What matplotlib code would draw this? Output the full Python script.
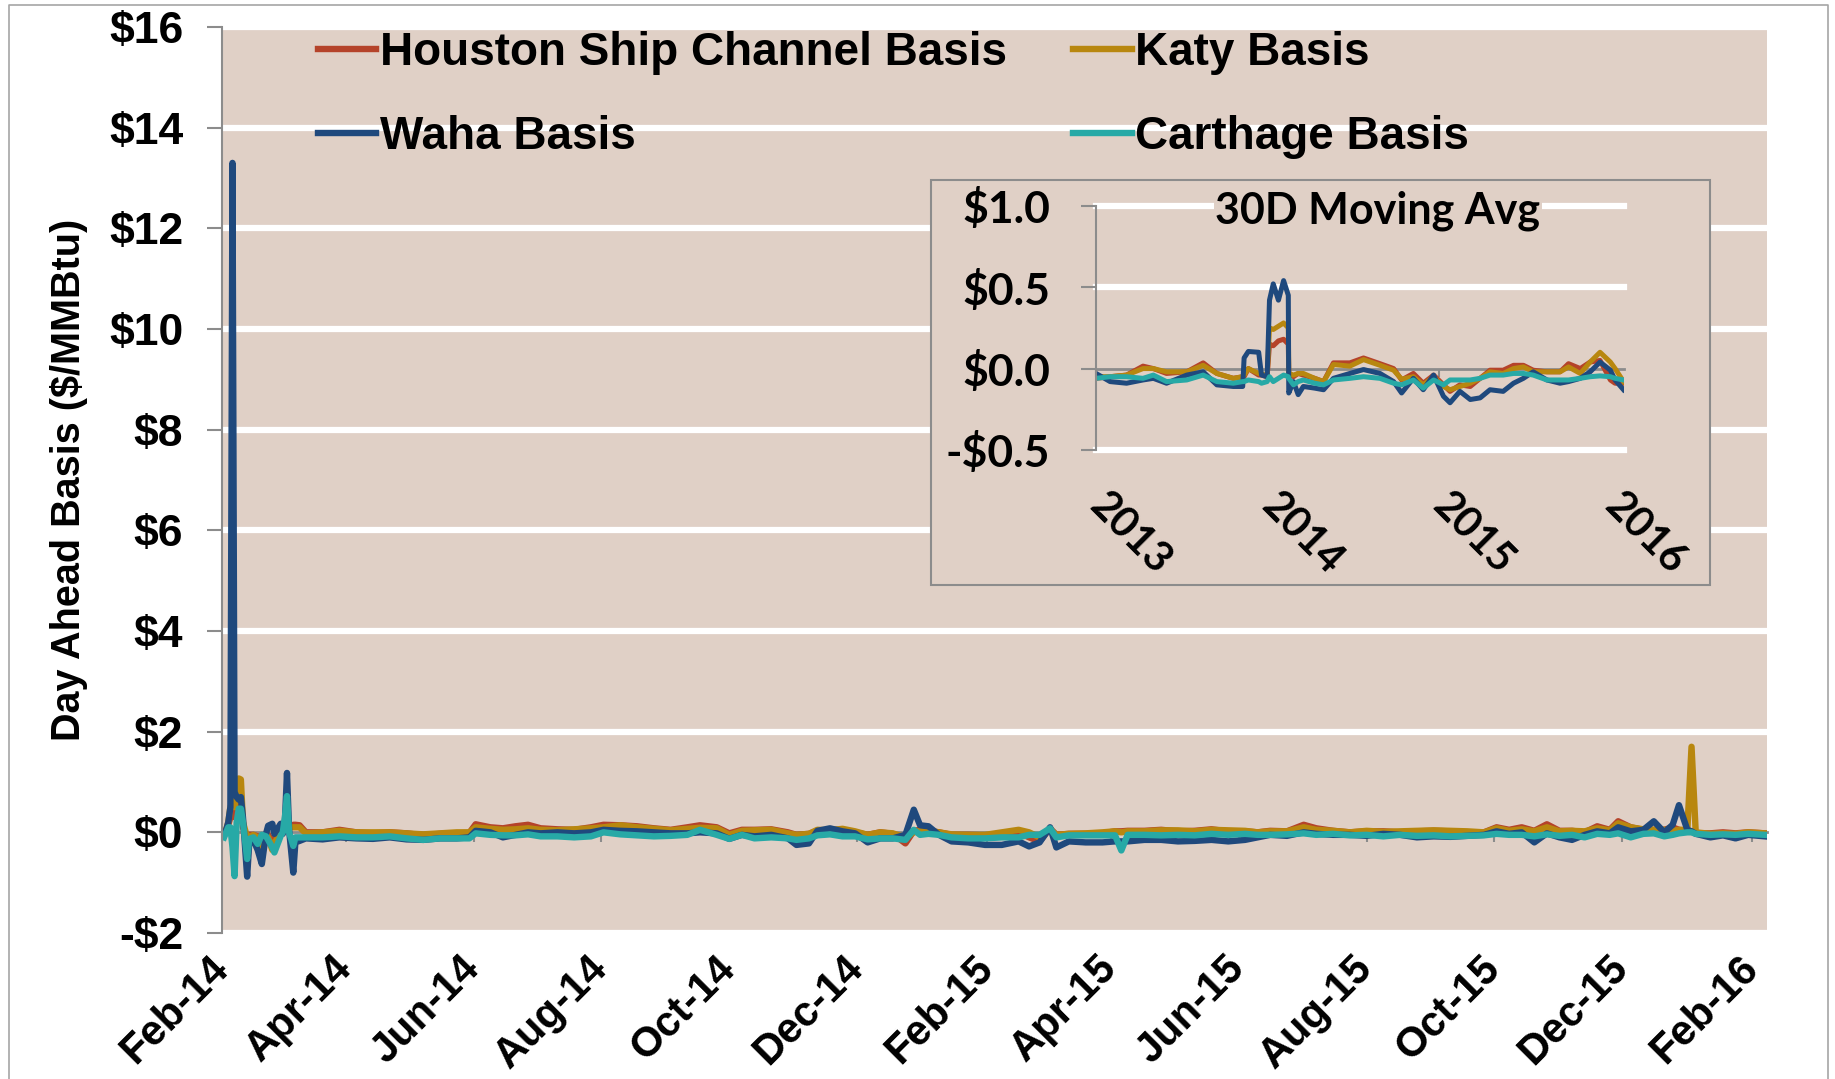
import matplotlib
matplotlib.use("Agg")
import matplotlib.pyplot as plt
import matplotlib.dates as mdates
from matplotlib.ticker import FixedLocator, NullFormatter
from matplotlib.patches import Rectangle
from matplotlib.lines import Line2D
import pandas as pd

# ---- main chart: daily day-ahead basis, days counted from 1 Feb 2014 ----
main_start = pd.Timestamp("2014-02-01")
main_end_day = 737
main_days = [1, 2, 3, 4, 5, 6, 7, 8, 9, 10, 12, 13, 15, 17, 19, 21, 22, 24, 25, 28, 29, 30, 31, 32, 34, 35, 37, 40,
             48, 56, 64, 72, 80, 88, 96, 104, 112, 118, 121, 128, 134, 140, 146, 152, 160, 168, 176, 182, 190, 198,
             206, 214, 222, 228, 236, 242, 248,
             254, 262, 270, 274, 280, 284, 290, 296, 302, 308, 314, 320, 326, 330, 333, 337, 342, 348, 356, 364,
             372, 380, 385, 390, 395, 398, 404, 412, 420, 426, 429, 432, 440, 448, 456, 464, 472, 480, 488, 494,
             500, 508, 516, 522, 530, 538, 546, 554, 562, 570, 578, 586, 594, 602, 608, 614, 620, 626, 632, 638,
             644, 650, 656, 662, 666, 672, 678, 683, 688, 692, 695, 699, 701, 703, 710, 716, 722, 728, 736]

hsc = [0.0, 0.05, 0.15, 0.3, 0.4, 0.3, 0.6, 0.7, 0.6, 0.1, -0.1, -0.05, -0.05, -0.08, -0.2, -0.05, -0.05, -0.2,
       -0.1, 0.0, 0.0, 0.15, 0.4, 0.1, 0.15, 0.15, 0.14, 0.0,
       0.0, 0.05, 0.0, -0.02, 0.0, -0.02, -0.06, -0.03, -0.02, -0.01, 0.16, 0.1, 0.08, 0.12, 0.15, 0.08, 0.06,
       0.05, 0.1, 0.15, 0.14, 0.12, 0.08, 0.05, 0.1, 0.14, 0.1, -0.02, 0.05,
       0.05, 0.06, 0.0, -0.05, -0.03, 0.03, 0.05, 0.05, 0.0, -0.05, 0.0, -0.03, -0.22, 0.03, 0.05, 0.03, 0.0,
       -0.05, -0.05, -0.06, -0.06, 0.0, -0.1, -0.18, 0.08, -0.05, -0.03, -0.03, -0.02, 0.02, 0.02, 0.03, 0.03,
       0.05, 0.02, 0.03, 0.06, 0.02, 0.02, 0.0,
       0.03, 0.02, 0.15, 0.08, 0.03, 0.0, 0.02, 0.02, 0.0, 0.02, 0.03, 0.02, 0.0, 0.0, 0.1, 0.05, 0.1, 0.03,
       0.16, 0.03, 0.03, 0.0, 0.12, 0.05, 0.22, 0.1, 0.05, 0.05, 0.05, 0.1, 0.05, 0.02, 0.02, -0.02, -0.02, 0.0,
       -0.02, 0.0, -0.02]

katy = [0.0, 0.05, 0.2, 0.5, 0.6, 0.5, 1.05, 1.07, 1.05, 0.2, -0.1, -0.1, -0.05, -0.1, -0.3, -0.05, -0.1, -0.35,
        -0.2, -0.05, 0.0, 0.2, 0.5, 0.1, 0.1, 0.1, 0.1, -0.02,
        0.0, 0.03, 0.0, 0.0, 0.0, -0.02, -0.04, -0.02, 0.0, 0.0, 0.1, 0.07, 0.05, 0.06, 0.08, 0.05, 0.04, 0.06,
        0.08, 0.1, 0.14, 0.1, 0.07, 0.04, 0.07, 0.09, 0.08, -0.05, 0.03,
        0.04, 0.05, -0.02, -0.05, -0.03, 0.05, 0.04, 0.07, 0.02, -0.05, 0.0, -0.02, -0.1, 0.0, 0.03, 0.03, 0.0,
        -0.04, -0.05, -0.05, 0.0, 0.05, 0.0, -0.1, 0.06, -0.05, -0.03, -0.02, 0.0, 0.02, 0.0, 0.02, 0.02, 0.04,
        0.04, 0.02, 0.05, 0.04, 0.03, 0.0,
        0.02, 0.02, 0.1, 0.05, 0.03, 0.0, 0.03, 0.01, 0.02, 0.03, 0.04, 0.03, 0.02, 0.0, 0.08, 0.03, 0.06, 0.02,
        0.1, 0.02, 0.03, 0.02, 0.08, 0.04, 0.18, 0.1, 0.06, 0.05, 0.05, 0.03, 0.05, 0.05, 1.7, 0.0, -0.03, -0.02,
        -0.03, 0.0, -0.02]

waha = [0.0, 0.05, 0.2, 0.5, 13.3, 0.8, 0.7, 0.65, 0.7, 0.3, -0.88, -0.2, -0.15, -0.35, -0.63, -0.03, 0.13, 0.17,
        -0.03, 0.17, -0.03, 0.2, 1.18, 0.05, -0.8, -0.2, -0.17, -0.12,
        -0.14, -0.1, -0.12, -0.13, -0.1, -0.14, -0.15, -0.12, -0.12, -0.1, 0.03, 0.0, -0.1, -0.05, 0.0, -0.02,
        0.0, -0.02, 0.0, 0.05, 0.03, 0.02, 0.0, -0.02, -0.02, 0.0, -0.02, -0.13, -0.05,
        -0.08, -0.05, -0.12, -0.25, -0.22, 0.03, 0.08, 0.02, -0.02, -0.2, -0.12, -0.12, -0.05, 0.45, 0.14, 0.12,
        -0.05, -0.18, -0.2, -0.25, -0.25, -0.18, -0.28, -0.2, 0.1, -0.3, -0.18, -0.2, -0.2, -0.18, -0.18, -0.18,
        -0.15, -0.15, -0.18, -0.17, -0.15, -0.18, -0.15, -0.1,
        -0.05, -0.07, 0.0, -0.03, -0.05, -0.05, -0.07, -0.03, -0.05, -0.1, -0.08, -0.09, -0.07, -0.05, 0.02,
        -0.03, 0.0, -0.2, -0.02, -0.1, -0.15, -0.05, 0.02, -0.02, 0.1, 0.02, 0.05, 0.22, 0.0, 0.15, 0.54, 0.05,
        0.02, -0.03, -0.1, -0.06, -0.12, -0.05, -0.08]

carthage = [-0.1, 0.0, 0.1, 0.1, -0.3, -0.87, 0.2, 0.47, 0.47, 0.2, -0.53, -0.13, -0.1, -0.23, -0.05, -0.08, -0.15,
            -0.3, -0.4, -0.07, 0.0, 0.3, 0.72, 0.0, -0.27, -0.1, -0.1, -0.1,
            -0.1, -0.08, -0.1, -0.1, -0.08, -0.12, -0.15, -0.12, -0.12, -0.12, -0.02, -0.05, -0.06, -0.06, -0.04,
            -0.08, -0.08, -0.1, -0.08, 0.0, -0.04, -0.06, -0.08, -0.07, -0.05, 0.05, -0.05, -0.13, -0.05,
            -0.12, -0.1, -0.12, -0.15, -0.12, -0.06, -0.04, -0.08, -0.08, -0.14, -0.12, -0.12, -0.15, 0.05, -0.05,
            -0.03, -0.05, -0.1, -0.12, -0.12, -0.1, -0.1, -0.05, -0.05, 0.08, -0.1, -0.06, -0.06, -0.06, -0.06,
            -0.36, -0.05, -0.05, -0.06, -0.05, -0.06, -0.03, -0.05, -0.03, -0.05,
            -0.05, -0.04, -0.02, -0.05, -0.03, -0.06, -0.05, -0.08, -0.05, -0.07, -0.06, -0.08, -0.07, -0.06,
            -0.03, -0.05, -0.05, -0.08, -0.04, -0.07, -0.05, -0.1, -0.03, -0.05, -0.02, -0.1, -0.03, -0.02, -0.08,
            -0.05, -0.02, 0.0, 0.0, -0.03, -0.05, -0.04, -0.05, -0.03, -0.05]

# ---- inset: 30 day moving average, days counted from 1 Jan 2013 ----
inset_start = pd.Timestamp("2013-01-01")
inset_end_day = 1123
inset_days = [0, 30, 65, 100, 122, 150, 193, 228, 257, 292, 312, 315, 324, 346, 352, 364, 369, 377, 388, 399,
              409, 410, 420, 430, 441, 465, 484, 505, 540, 569, 604, 633, 650, 675, 696, 718, 739, 753, 774, 796,
              817, 838, 866, 888, 909, 930, 959, 987, 1005, 1030, 1051, 1072, 1094, 1104, 1122]
hsc_ma = [-0.06, -0.05, -0.04, 0.015, 0.0, -0.03, -0.02, 0.035, -0.03, -0.06, -0.05, -0.05, 0.0, -0.04, -0.04,
          -0.05, 0.15, 0.14, 0.17, 0.18, 0.15, -0.03, -0.05, -0.03, -0.04, -0.06, -0.08, 0.035, 0.035, 0.065,
          0.03, 0.0, -0.07, -0.03, -0.09, -0.04, -0.1, -0.14, -0.1, -0.11, -0.06, -0.01, -0.01, 0.02, 0.02,
          -0.01, -0.02, -0.02, 0.03, 0.0, 0.04, 0.05, -0.07, -0.09, -0.09]
katy_ma = [-0.05, -0.05, -0.04, 0.0, 0.0, -0.02, -0.02, 0.02, -0.03, -0.06, -0.05, -0.04, 0.0, -0.03, -0.03,
           -0.05, 0.25, 0.24, 0.26, 0.28, 0.25, -0.03, -0.04, -0.03, -0.03, -0.06, -0.08, 0.025, 0.015, 0.055,
           0.02, -0.01, -0.065, -0.05, -0.1, -0.05, -0.11, -0.13, -0.11, -0.09, -0.06, -0.02, -0.03, 0.0, 0.01,
           -0.02, -0.02, -0.02, 0.01, -0.03, 0.04, 0.1, 0.04, 0.0, -0.08]
waha_ma = [-0.03, -0.08, -0.09, -0.07, -0.06, -0.09, -0.04, -0.02, -0.1, -0.11, -0.11, 0.065, 0.105, 0.1, -0.04,
           -0.05, 0.42, 0.52, 0.42, 0.54, 0.45, -0.15, -0.08, -0.16, -0.11, -0.12, -0.13, -0.06, -0.03, -0.006,
           -0.03, -0.08, -0.15, -0.06, -0.13, -0.04, -0.17, -0.21, -0.14, -0.19, -0.18, -0.13, -0.14, -0.09,
           -0.06, -0.02, -0.07, -0.09, -0.08, -0.06, -0.02, 0.04, -0.01, -0.07, -0.13]
carthage_ma = [-0.06, -0.05, -0.05, -0.06, -0.04, -0.08, -0.07, -0.04, -0.08, -0.09, -0.08, -0.08, -0.07, -0.08,
               -0.09, -0.08, -0.05, -0.08, -0.06, -0.04, -0.05, -0.06, -0.1, -0.08, -0.07, -0.09, -0.1, -0.07,
               -0.06, -0.05, -0.06, -0.09, -0.1, -0.07, -0.12, -0.07, -0.1, -0.07, -0.07, -0.07, -0.06, -0.04,
               -0.04, -0.03, -0.03, -0.04, -0.07, -0.07, -0.07, -0.06, -0.05, -0.045, -0.05, -0.06, -0.07]

series_names = ["Houston Ship Channel Basis", "Katy Basis", "Waha Basis", "Carthage Basis"]
series_colors = ["#B5432A", "#B8870F", "#1F497D", "#27A9A6"]
main_yticks = [-2, 0, 2, 4, 6, 8, 10, 12, 14, 16]
inset_yticks = [-0.5, 0.0, 0.5, 1.0]
inset_years = ["2013", "2014", "2015", "2016"]

TAN = "#E0D0C6"
GREY = "#8C8C8C"
W, H = 1835, 1079

plt.rcParams["font.family"] = ["Liberation Sans", "DejaVu Sans"]
plt.rcParams["font.weight"] = "bold"
plt.rcParams["axes.labelweight"] = "bold"


def money(v, decimals=0):
    s = f"{abs(v):.{decimals}f}"
    return f"-${s}" if v < 0 else f"${s}"


fig = plt.figure(figsize=(W / 100, H / 100), dpi=100)

# ---------------- main axes ----------------
ax = fig.add_axes([222 / W, 1 - 933 / H, (1767 - 222) / W, (933 - 27) / H])
ax.set_facecolor(TAN)

x_main = main_start + pd.to_timedelta(main_days, unit="D")
lines = []
for vals, name, col in zip([hsc, katy, waha, carthage], series_names, series_colors):
    ln, = ax.plot(x_main, vals, color=col, lw=4.6, label=name, solid_joinstyle="round", zorder=2)
    lines.append(ln)

ax.set_xlim(main_start, main_start + pd.Timedelta(days=main_end_day))
ymin, ymax = main_yticks[0], main_yticks[-1]
ax.set_ylim(ymin, ymax)

ax.set_yticks(main_yticks, labels=[money(v) for v in main_yticks], fontsize=32)
ax.tick_params(axis="y", length=11, width=1.5, color=GREY, pad=17)
ax.set_axisbelow(True)
ax.yaxis.grid(True, color="white", lw=4.5)
for tk in ax.yaxis.get_major_ticks():
    if tk.get_loc() == 0:
        tk.gridline.set_visible(False)

tick_dates = pd.date_range("2014-02-01", "2016-02-01", freq="2MS")
ax.set_xticks(tick_dates, labels=[d.strftime("%b-%y") for d in tick_dates], fontsize=30,
              rotation=45, ha="right", va="center", rotation_mode="anchor")
ax.tick_params(axis="x", length=0, pad=21)

for s in ["top", "right", "bottom"]:
    ax.spines[s].set_visible(False)
ax.spines["left"].set_color(GREY)
ax.spines["left"].set_linewidth(1.5)

# zero line with its own tick marks (Excel axis crossing at 0)
zero_axis = ax.secondary_xaxis((0 - ymin) / (ymax - ymin))
zero_axis.xaxis.set_major_locator(FixedLocator(mdates.date2num(tick_dates.to_pydatetime())))
zero_axis.xaxis.set_major_formatter(NullFormatter())
zero_axis.tick_params(axis="x", length=7, width=1.5, color=GREY, direction="out")
zero_axis.spines["bottom"].set_color(GREY)
zero_axis.spines["bottom"].set_linewidth(2)
zero_axis.set_zorder(1)

ax.set_ylabel("Day Ahead Basis ($/MMBtu)", fontsize=28.5)
ax.yaxis.set_label_coords(-0.087, 0.5)

order = [0, 2, 1, 3]
ax.legend([lines[i] for i in order], [series_names[i] for i in order], ncol=2, loc="upper left",
          bbox_to_anchor=(318 / W, 1 - 31 / H), bbox_transform=fig.transFigure, frameon=False,
          prop={"size": 33, "weight": "bold"}, handlelength=1.27, handletextpad=0.08,
          columnspacing=1.45, labelspacing=0.87, borderpad=0, borderaxespad=0)

# ---------------- inset ----------------
fig.add_artist(Rectangle((931 / W, 1 - 585 / H), 779 / W, 405 / H, transform=fig.transFigure,
                         facecolor=TAN, edgecolor=GREY, lw=1.5, zorder=1))

ax_in = fig.add_axes([1096 / W, 1 - 450 / H, (1624 - 1096) / W, (450 - 205.7) / H], zorder=2)
ax_in.patch.set_alpha(0)
x_in = inset_start + pd.to_timedelta(inset_days, unit="D")
for vals, col in zip([hsc_ma, katy_ma, waha_ma, carthage_ma], series_colors):
    ax_in.plot(x_in, vals, color=col, lw=3.6, solid_joinstyle="round", zorder=2)

ax_in.set_xlim(inset_start, inset_start + pd.Timedelta(days=inset_end_day))
iymin, iymax = inset_yticks[0], inset_yticks[-1]
ax_in.set_ylim(iymin, iymax)
ax_in.set_yticks(inset_yticks, labels=[money(v, 1) for v in inset_yticks], fontsize=32, fontfamily="Lato")
ax_in.tick_params(axis="y", length=11, width=1.5, color=GREY, pad=22)
ax_in.set_axisbelow(True)
ax_in.yaxis.grid(True, color="white", lw=4.5)
for tk in ax_in.yaxis.get_major_ticks():
    tk.gridline.set_clip_on(False)
    if tk.get_loc() == 0:
        tk.gridline.set_visible(False)

year_dates = pd.to_datetime([y + "-01-01" for y in inset_years])
ax_in.set_xticks(year_dates, labels=inset_years, fontsize=30, fontfamily="Lato",
                 rotation=-45, ha="left", va="center", rotation_mode="anchor")
ax_in.tick_params(axis="x", length=0, pad=36)

for s in ["top", "right", "bottom"]:
    ax_in.spines[s].set_visible(False)
ax_in.spines["left"].set_color(GREY)
ax_in.spines["left"].set_linewidth(1.5)

zero_in = ax_in.secondary_xaxis((0 - iymin) / (iymax - iymin))
zero_in.xaxis.set_major_locator(FixedLocator(mdates.date2num(year_dates.to_pydatetime())))
zero_in.xaxis.set_major_formatter(NullFormatter())
zero_in.tick_params(axis="x", length=6, width=1.5, color=GREY, direction="out")
zero_in.spines["bottom"].set_color(GREY)
zero_in.spines["bottom"].set_linewidth(2)
zero_in.set_zorder(1)

ax_in.text(0.534, 0.978, "30D Moving Avg", transform=ax_in.transAxes, ha="center", va="center",
           fontsize=31, fontfamily="Lato", fontweight="bold", zorder=3,
           bbox=dict(facecolor=TAN, edgecolor="none", pad=1))

# outer chart border
fig.add_artist(Line2D([8.5 / W, 8.5 / W, 1828 / W, 1828 / W], [0, 1 - 5 / H, 1 - 5 / H, 0],
                      transform=fig.transFigure, color="#A6A6A6", lw=1.2))

fig.savefig("out.png", dpi=100)
